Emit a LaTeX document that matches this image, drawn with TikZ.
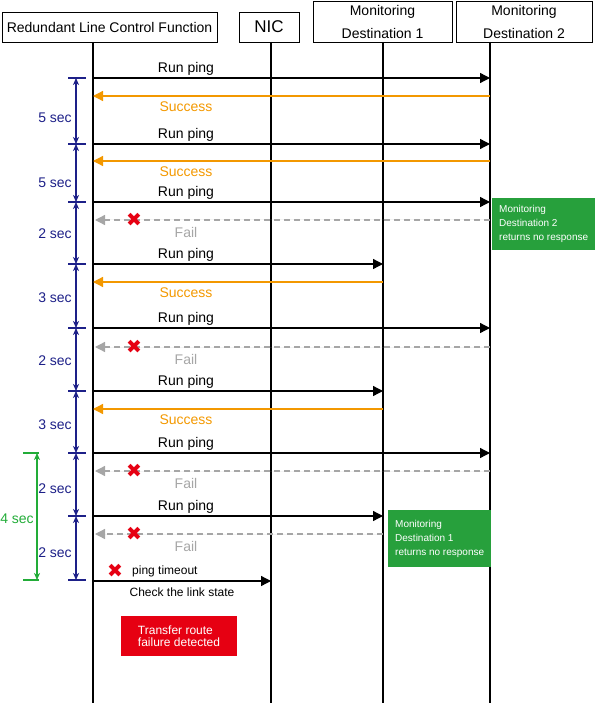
\documentclass[tikz,border=0pt]{standalone}
\usepackage{fontspec}
\setmainfont{Liberation Sans}
\newfontfamily\symfont{DejaVu Sans}
\usetikzlibrary{arrows.meta,positioning}
\definecolor{pingorange}{HTML}{F39800}
\definecolor{failgray}{HTML}{A6A6A6}
\definecolor{secblue}{HTML}{1D2088}
\definecolor{secgreen}{HTML}{22AC38}
\definecolor{boxgreen}{HTML}{27A03C}
\definecolor{boxred}{HTML}{E60012}
\begin{document}
\begin{tikzpicture}[x=1pt,y=-1pt,
  hd/.style={draw,line width=0.8pt,inner sep=0pt,align=center,
             font=\fontsize{14}{23}\selectfont},
  life/.style={line width=1.6pt},
  ping/.style={line width=1.3pt,-{Triangle[length=10pt,width=10pt]}},
  okmsg/.style={ping,draw=pingorange,fill=pingorange},
  failmsg/.style={ping,draw=failgray,fill=failgray,dash pattern=on 6pt off 4pt},
  lbl/.style={font=\fontsize{14}{14}\selectfont,inner sep=0pt},
  small/.style={font=\fontsize{12}{12}\selectfont,inner sep=0pt},
  cross/.style={text=boxred,inner sep=0pt,font=\symfont\fontsize{19}{19}\selectfont},
  secarrow/.style={line width=1.3pt,{Stealth[length=7pt,width=6pt,inset=2pt]}-{Stealth[length=7pt,width=6pt,inset=2pt]}},
  note/.style={fill=boxgreen,text=white,anchor=north west,align=left,inner sep=7pt,
               font=\fontsize{10}{14}\selectfont}
]
  \useasboundingbox (0,0) rectangle (594,703);
  % header boxes
  \node[hd,minimum width=215pt,minimum height=30pt] (rlcf) at (109.5,27) {Redundant Line Control Function};
  \node[hd,minimum width=60pt,minimum height=30pt,font=\fontsize{17}{17}\selectfont] (nic) at (269,27) {NIC};
  \node[hd,minimum width=139pt,minimum height=41pt] (md1) at (382.5,21.5) {Monitoring\\Destination 1};
  \node[hd,minimum width=136pt,minimum height=41pt] (md2) at (524,21.5) {Monitoring\\Destination 2};
  % lifelines
  \coordinate (l1) at (93,42);
  \coordinate (l2) at (271,42);
  \coordinate (l3) at (383,42);
  \coordinate (l4) at (490,42);
  \foreach \l in {l1,l2,l3,l4}
    \draw[life] (\l) -- (\l |- 0,703);
  % ping requests
  \foreach \y/\dst in {78/l4,144/l4,202/l4,264/l3,328/l4,391/l3,453/l4,516/l3} {
    \draw[ping] (l1 |- 0,\y) -- (\dst |- 0,\y);
    \node[lbl] at (186,\y-9) {Run ping};
  }
  % answers
  \foreach \y/\src in {96/l4,161/l4,282/l3,409/l3} {
    \draw[okmsg] (\src |- 0,\y) -- (l1 |- 0,\y);
    \node[lbl,text=pingorange] at (186,\y+11) {Success};
  }
  \foreach \y/\src in {220/l4,347/l4,471/l4,534/l3} {
    \draw[failmsg] (\src |- 0,\y) -- ([xshift=2pt]l1 |- 0,\y);
    \node[cross] at (134,\y) {✖};
    \node[lbl,text=failgray] at (186,\y+12) {Fail};
  }
  % intervals
  \foreach \a/\b/\t/\ly in {78/144/5/118,144/202/5/183,202/264/2/234,264/328/3/298,
                            328/391/2/361,391/453/3/425,453/516/2/489,516/580/2/553} {
    \draw[secarrow,secblue] (76,\a) -- (76,\b);
    \node[lbl,text=secblue] at (55,\ly) {\t\ sec};
  }
  \foreach \y in {78,144,202,264,328,391,453,516,580}
    \draw[secblue,line width=1.3pt] (68,\y) -- (86,\y);
  \draw[secarrow,secgreen] (37,453) -- (37,580);
  \draw[secgreen,line width=1.3pt] (23,453) -- (39,453) (23,580) -- (39,580);
  \node[lbl,text=secgreen] at (17,519) {4 sec};
  % timeout and link check
  \node[cross] (tmo) at (115,571) {✖};
  \node[small,anchor=west] at (132,571) {ping timeout};
  \draw[ping] (l1 |- 0,581) -- node[small,below=6pt] {Check the link state} (l2 |- 0,581);
  \node[fill=boxred,text=white,minimum width=116pt,minimum height=40pt,align=left,
        font=\fontsize{12}{12}\selectfont] (detect) at (179,636) {Transfer route\\failure detected};
  % notes
  \node[note,minimum width=99pt,minimum height=51pt] (nr2) at (492,198)
    {Monitoring\\Destination 2\\returns no response};
  \node[note,minimum width=98pt,minimum height=57pt] (nr1) at (388,510)
    {Monitoring\\Destination 1\\returns no response};
\end{tikzpicture}
\end{document}
